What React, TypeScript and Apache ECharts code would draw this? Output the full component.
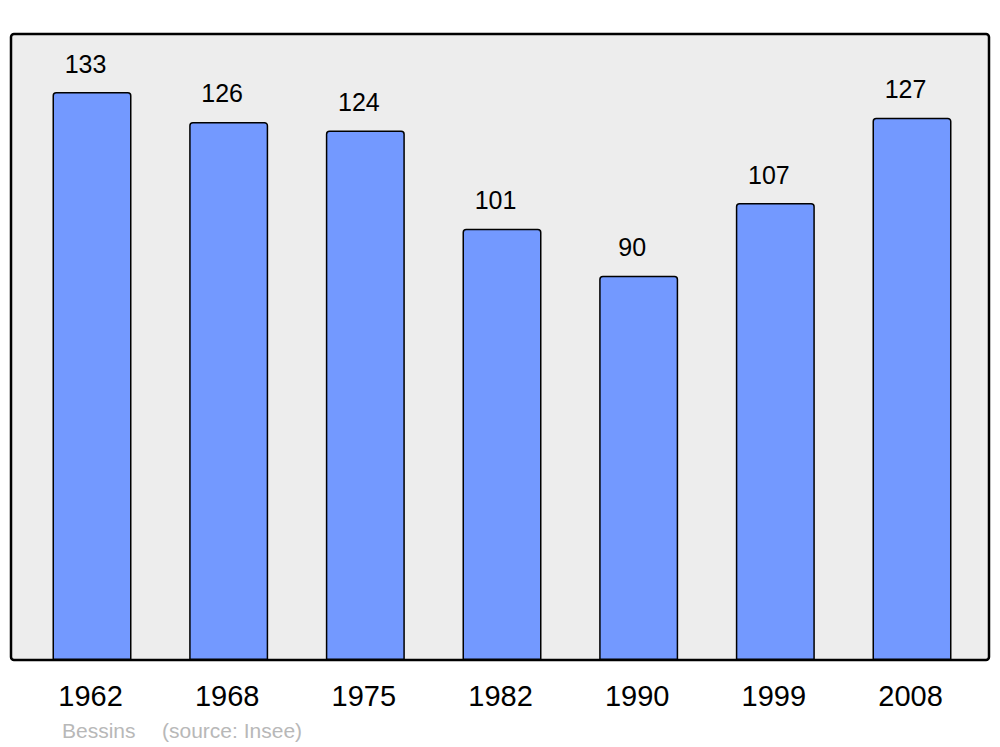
import React, { useEffect, useRef } from "react";
import * as echarts from "echarts";

const years = ["1962", "1968", "1975", "1982", "1990", "1999", "2008"];
const population = [133, 126, 124, 101, 90, 107, 127];
const footerName = "Bessins";
const footerSource = "(source: Insee)";

export default function App() {
  const ref = useRef<HTMLDivElement>(null);
  useEffect(() => {
    if (!ref.current) return;
    const chart = echarts.init(ref.current, null, { renderer: "svg" });
    const font = "'Liberation Sans', Arial, sans-serif";
    chart.setOption({
      animation: false,
      backgroundColor: "#ffffff",
      grid: { left: 23.67, right: 19.67, top: 34, bottom: 87 },
      xAxis: {
        type: "category",
        data: years,
        axisLine: { show: false },
        axisTick: { show: false },
        axisLabel: { color: "#000", fontSize: 29, fontFamily: font, margin: 21, padding: [0, 3, 0, 0] },
      },
      yAxis: {
        type: "value",
        min: 0,
        max: 146.6,
        show: false,
        splitLine: { show: false },
      },
      graphic: [
        {
          type: "rect",
          z: -10,
          shape: { x: 11, y: 34, width: 978, height: 626, r: 3 },
          style: { fill: "#EDEDED", stroke: "#000", lineWidth: 2.5 },
        },
        {
          type: "text",
          x: 62,
          y: 730,
          style: { text: footerName, fill: "#b8b8b8", fontSize: 21, fontFamily: font, verticalAlign: "middle" },
        },
        {
          type: "text",
          x: 162,
          y: 730,
          style: { text: footerSource, fill: "#b8b8b8", fontSize: 21, fontFamily: font, verticalAlign: "middle" },
        },
      ],
      series: [
        {
          type: "bar",
          data: population,
          barWidth: 79,
          itemStyle: {
            color: "#7399FF",
            borderColor: "#000",
            borderWidth: 1.5,
            borderRadius: [3, 3, 0, 0],
          },
          label: {
            show: true,
            position: "top",
            distance: 16,
            offset: [-6.5, 0],
            color: "#000",
            fontSize: 25,
            fontFamily: font,
          },
        },
      ],
    });
    return () => chart.dispose();
  }, []);
  return <div ref={ref} style={{ width: 1000, height: 747, position: "absolute", left: 0, top: 0 }} />;
}
